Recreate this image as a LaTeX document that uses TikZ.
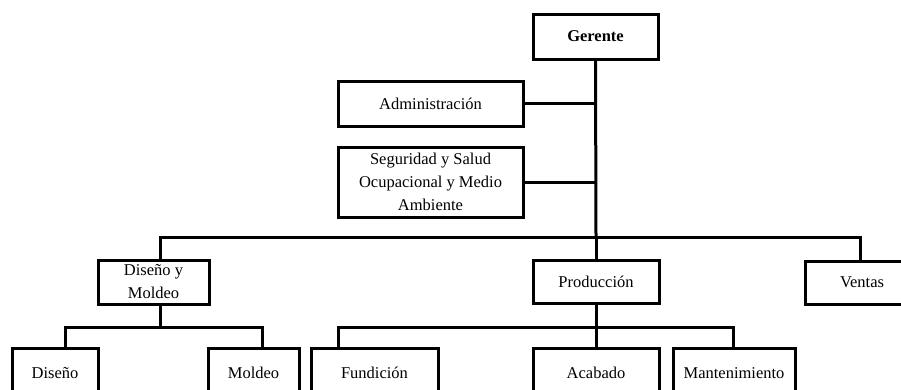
\documentclass[tikz,border=0pt]{standalone}
\usepackage{fontspec}
\setmainfont{Liberation Serif}
\begin{document}
\begin{tikzpicture}[x=1pt,y=-1pt,
  box/.style={draw=black,line width=3pt,fill=white,align=center,inner sep=0pt,
    font=\fontsize{16.5}{23}\selectfont},
  conn/.style={draw=black,line width=3pt}]
\useasboundingbox (0,0) rectangle (901,389);
\clip (0,0) rectangle (901,389);
\fill[white] (0,0) rectangle (901,389);
% nodes
\node[box,minimum width=125pt,minimum height=45pt] (ger) at (595.5,36.5) {\textbf{Gerente}};
\node[box,minimum width=185pt,minimum height=45pt] (adm) at (430.5,103.5) {Administración};
\node[box,minimum width=185pt,minimum height=70pt] (seg) at (430.5,182) {Seguridad y Salud\\Ocupacional y Medio\\Ambiente};
\node[box,minimum width=111pt,minimum height=44pt] (dym) at (153.5,282) {Diseño y\\Moldeo};
\node[box,minimum width=126pt,minimum height=43pt] (pro) at (596,281.5) {Producción};
\node[box,minimum width=114pt,minimum height=43pt] (ven) at (862,282.5) {Ventas};
\node[box,minimum width=86pt,minimum height=50pt] (dis) at (55,373) {Diseño};
\node[box,minimum width=91pt,minimum height=50pt] (mol) at (253.5,373) {Moldeo};
\node[box,minimum width=127pt,minimum height=50pt] (fun) at (374.5,373) {Fundición};
\node[box,minimum width=126pt,minimum height=50pt] (aca) at (596,373) {Acabado};
\node[box,minimum width=122pt,minimum height=50pt] (man) at (734,373) {Mantenimiento};
% bus coordinates
\coordinate (bt) at (596,237);
\coordinate (bl) at (160,237);
\coordinate (br) at (860,237);
\coordinate (d1) at (160,327);
\coordinate (dl) at (65,327);
\coordinate (dr) at (262,327);
\coordinate (p1) at (596,327);
\coordinate (pl) at (338,327);
\coordinate (pr) at (733,327);
% connectors
\draw[conn] (ger.south) -- (bt);
\draw[conn] (adm.east) -- (adm.east -| bt);
\draw[conn] (seg.east) -- (seg.east -| bt);
\draw[conn] (bl |- dym.north) -- (bl) -- (br) -- (br |- ven.north);
\draw[conn] (bt) -- (pro.north);
\draw[conn] (d1 |- dym.south) -- (d1);
\draw[conn] (dl |- dis.north) -- (dl) -- (dr) -- (dr |- mol.north);
\draw[conn] (pro.south) -- (p1);
\draw[conn] (pl |- fun.north) -- (pl) -- (pr) -- (pr |- man.north);
\draw[conn] (p1) -- (aca.north);
\end{tikzpicture}
\end{document}
